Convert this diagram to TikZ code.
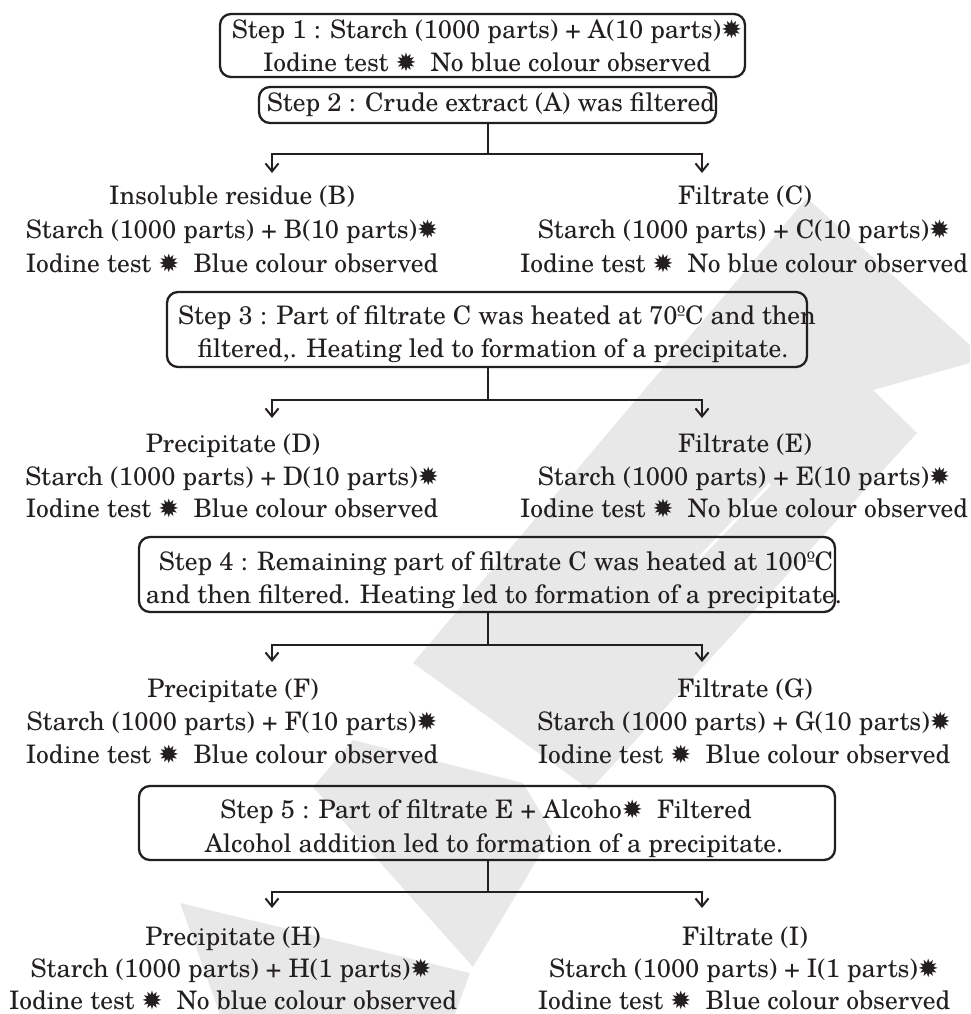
\documentclass[tikz,border=0pt]{standalone}
\usepackage{fontspec}
\setmainfont{TeX Gyre Schola}
\newfontfamily\symfnt{DejaVu Sans}
\usetikzlibrary{arrows.meta}
\definecolor{ink}{RGB}{35,31,32}
\definecolor{wmgray}{RGB}{232,232,232}
\newcommand{\fsz}{\fontsize{25.5pt}{33pt}\selectfont}
\newcommand{\stari}{{\symfnt\fontsize{25pt}{25pt}\selectfont ✹}}
\tikzset{
  ln/.style={draw=ink, line width=2.3pt},
  stepbox/.style={draw=ink, line width=2.3pt, rounded corners=11pt, inner sep=0pt},
  tx/.style={anchor=base, inner sep=0pt, font=\fsz, text=ink},
  arr/.style={ln, -{Straight Barb[length=8pt,width=13pt,line width=2pt]}},
  wm/.style={fill=wmgray, draw=none}
}
\begin{document}
\begin{tikzpicture}[x=1pt,y=-1pt]
\useasboundingbox (0,0) rectangle (970,1014);
% watermark
\fill[wm] (807,198) -- (970,345) -- (970,363) -- (873,390) -- (917,433) -- (590,790) -- (413,663) -- cycle;
\draw[white, line width=3pt] (700,557) -- (770,484);
\fill[wm] (353,740) -- (523,783) -- (553,833) -- (473,967) -- (313,787) -- cycle;
\fill[wm] (180,903) -- (470,973) -- (455,1014) -- (220,1014) -- cycle;

% boxes
\node[stepbox, minimum width=525pt, minimum height=63pt] (s1) at (482.5,45.5) {};
\node[stepbox, minimum width=457pt, minimum height=36pt] (s2) at (487.5,105) {};
\node[stepbox, minimum width=640pt, minimum height=75pt] (s3) at (487,329.5) {};
\node[stepbox, minimum width=696pt, minimum height=75pt] (s4) at (487,574.5) {};
\node[stepbox, minimum width=696pt, minimum height=74pt] (s5) at (487,823) {};

% box texts
\node[tx] (s1a) at (487,39) {Step 1 : Starch (1000 parts) + A(10 parts)\stari};
\node[tx] (s1b) at (487,72) {Iodine test \stari~~No blue colour observed};
\node[tx] (s2a) at (491,112) {Step 2 : Crude extract (A) was filtered};
\node[tx] (s3a) at (497,324) {Step 3 : Part of filtrate C was heated at 70ºC and then};
\node[tx] (s3b) at (493,357) {filtered,. Heating led to formation of a precipitate.};
\node[tx] (s4a) at (496,570) {Step 4 : Remaining part of filtrate C was heated at 100ºC};
\node[tx] (s4b) at (494,603) {and then filtered. Heating led to formation of a precipitate.};
\node[tx] (s5a) at (486,818) {Step 5 : Part of filtrate E + Alcoho\stari~~Filtered};
\node[tx] (s5b) at (494,852) {Alcohol addition led to formation of a precipitate.};

% branch B / C
\node[tx] (b1) at (232,204) {Insoluble residue (B)};
\node[tx] (b2) at (232,238) {Starch (1000 parts) + B(10 parts)\stari};
\node[tx] (b3) at (232,272) {Iodine test \stari~~Blue colour observed};
\node[tx] (c1) at (745,204) {Filtrate (C)};
\node[tx] (c2) at (744,238) {Starch (1000 parts) + C(10 parts)\stari};
\node[tx] (c3) at (744,272) {Iodine test \stari~~No blue colour observed};

% branch D / E
\node[tx] (d1) at (233,452) {Precipitate (D)};
\node[tx] (d2) at (232,485) {Starch (1000 parts) + D(10 parts)\stari};
\node[tx] (d3) at (232,517) {Iodine test \stari~~Blue colour observed};
\node[tx] (e1) at (745,452) {Filtrate (E)};
\node[tx] (e2) at (744,485) {Starch (1000 parts) + E(10 parts)\stari};
\node[tx] (e3) at (744,517) {Iodine test \stari~~No blue colour observed};

% branch F / G
\node[tx] (f1) at (233,697) {Precipitate (F)};
\node[tx] (f2) at (232,730) {Starch (1000 parts) + F(10 parts)\stari};
\node[tx] (f3) at (232,763) {Iodine test \stari~~Blue colour observed};
\node[tx] (g1) at (745,697) {Filtrate (G)};
\node[tx] (g2) at (744,730) {Starch (1000 parts) + G(10 parts)\stari};
\node[tx] (g3) at (744,763) {Iodine test \stari~~Blue colour observed};

% branch H / I
\node[tx] (h1) at (233,945) {Precipitate (H)};
\node[tx] (h2) at (231,977) {Starch (1000 parts) + H(1 parts)\stari};
\node[tx] (h3) at (233,1009) {Iodine test \stari~~No blue colour observed};
\node[tx] (i1) at (745,945) {Filtrate (I)};
\node[tx] (i2) at (744,977) {Starch (1000 parts) + I(1 parts)\stari};
\node[tx] (i3) at (744,1009) {Iodine test \stari~~Blue colour observed};

% connectors
\coordinate (j1) at (488,154); \coordinate (tb) at (272,173); \coordinate (tc) at (702,173);
\coordinate (j2) at (488,400); \coordinate (td) at (272,418); \coordinate (te) at (702,418);
\coordinate (j3) at (488,645); \coordinate (tf) at (272,662); \coordinate (tg) at (702,662);
\coordinate (j4) at (488,892); \coordinate (th) at (272,908); \coordinate (ti) at (702,908);

\draw[ln] (s2.south -| j1) -- (j1);
\draw[arr] (j1) -| (tb);
\draw[arr] (j1) -| (tc);
\draw[ln] (s3.south -| j2) -- (j2);
\draw[arr] (j2) -| (td);
\draw[arr] (j2) -| (te);
\draw[ln] (s4.south -| j3) -- (j3);
\draw[arr] (j3) -| (tf);
\draw[arr] (j3) -| (tg);
\draw[ln] (s5.south -| j4) -- (j4);
\draw[arr] (j4) -| (th);
\draw[arr] (j4) -| (ti);
\end{tikzpicture}
\end{document}
